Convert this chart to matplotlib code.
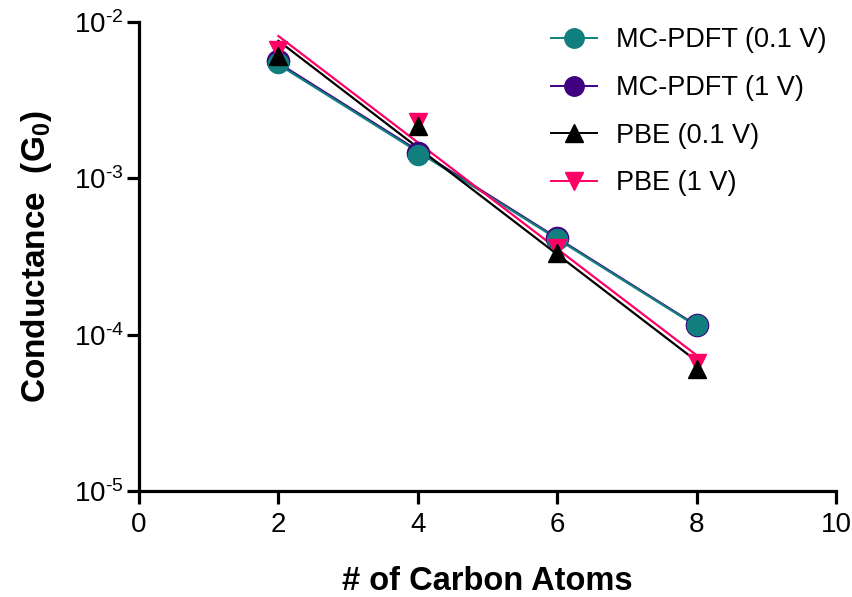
import numpy as np
import matplotlib
matplotlib.use('Agg')
import matplotlib.pyplot as plt
from matplotlib.lines import Line2D
from matplotlib.ticker import FixedLocator, FuncFormatter, NullLocator

plt.rcParams['font.family'] = ['Liberation Sans', 'DejaVu Sans']
plt.rcParams['mathtext.fontset'] = 'custom'
plt.rcParams['mathtext.rm'] = 'Liberation Sans'
plt.rcParams['mathtext.bf'] = 'Liberation Sans:bold'

# data
carbons = [2, 4, 6, 8]
mc_pdft_01 = [5.5e-3, 1.42e-3, 4.1e-4, 1.15e-4]
mc_pdft_1 = [5.6e-3, 1.45e-3, 4.15e-4, 1.16e-4]
pbe_01 = [6.1e-3, 2.15e-3, 3.35e-4, 6.0e-5]
pbe_1 = [6.6e-3, 2.3e-3, 3.6e-4, 6.6e-5]

labels = ['MC-PDFT (0.1 V)', 'MC-PDFT (1 V)', 'PBE (0.1 V)', 'PBE (1 V)']
teal = '#117f7e'
purple = '#3f0080'
pink = '#ff0066'


def fit_line(x, y):
    # exponential fit -> straight line on the log axis
    k, b = np.polyfit(x, np.log10(y), 1)
    xs = np.array([min(x), max(x)])
    return xs, 10 ** (k * xs + b)


def decade_label(v, pos):
    # hyphen instead of the math minus, like the original
    return r'$\mathregular{10^{\text{-%d}}}$' % abs(round(np.log10(v)))


fig = plt.figure(figsize=(8.52, 5.97), dpi=100)
ax = fig.add_axes([139 / 852, 1 - 491 / 597, 697 / 852, 469 / 597])
ax.set_yscale('log')
ax.set_xlim(0, 10)
ax.set_ylim(1e-5, 1e-2)

# fit lines
for ys, c in [(mc_pdft_1, purple), (mc_pdft_01, teal),
              (pbe_01, 'black'), (pbe_1, pink)]:
    fx, fy = fit_line(carbons, ys)
    ax.plot(fx, fy, color=c, lw=1.6, zorder=2)

# markers
ax.plot(carbons, mc_pdft_1, 'o', ms=16, mfc=purple, mec=purple, zorder=3)
ax.plot(carbons, mc_pdft_01, 'o', ms=14.5, mfc=teal, mec=teal, zorder=4)
ax.plot(carbons, pbe_1, 'v', ms=13, mfc=pink, mec=pink, zorder=5)
ax.plot(carbons, pbe_01, '^', ms=13, mfc='black', mec='black', zorder=6)

for s in ['top', 'right']:
    ax.spines[s].set_visible(False)
for s in ['left', 'bottom']:
    ax.spines[s].set_linewidth(2.3)

ax.xaxis.set_major_locator(FixedLocator([0, 2, 4, 6, 8, 10]))
ax.yaxis.set_major_locator(FixedLocator([1e-5, 1e-4, 1e-3, 1e-2]))
ax.yaxis.set_minor_locator(NullLocator())
ax.yaxis.set_major_formatter(FuncFormatter(decade_label))
ax.tick_params(axis='both', width=2.3, length=9)
ax.tick_params(axis='x', labelsize=20, pad=6)
ax.tick_params(axis='y', labelsize=20, pad=2)

ax.set_xlabel('# of Carbon Atoms', fontsize=23.5, fontweight='bold',
              labelpad=20)
ax.set_ylabel(r'Conductance  (G$_\mathbf{0}$)', fontsize=24,
              fontweight='bold', labelpad=14)

handles = [
    Line2D([], [], color=teal, lw=1.4, marker='o', ms=14, mec=teal),
    Line2D([], [], color=purple, lw=1.4, marker='o', ms=14, mec=purple),
    Line2D([], [], color='black', lw=1.4, marker='^', ms=13),
    Line2D([], [], color=pink, lw=1.4, marker='v', ms=13),
]
fig.legend(handles, labels, loc='upper left',
           bbox_to_anchor=(527 / 852, 1 - 3 / 597), frameon=False,
           fontsize=19.5, handlelength=1.7, handletextpad=0.7,
           labelspacing=0.8)

fig.savefig('out.png', dpi=100)
